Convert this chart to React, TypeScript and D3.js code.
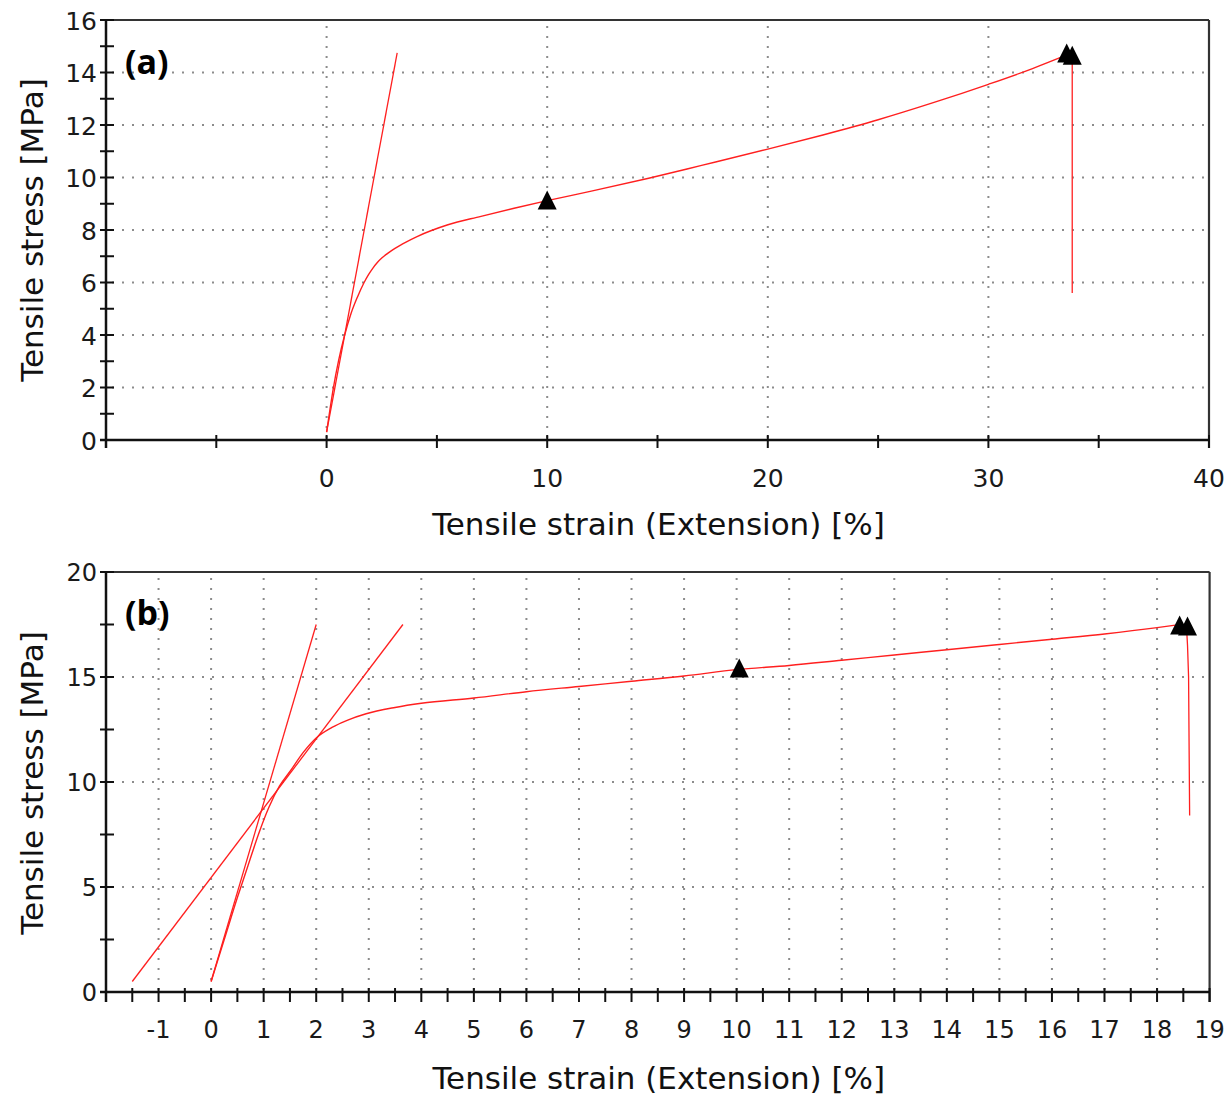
import { useEffect, useRef } from "react";
import * as d3 from "d3";

const FONT = "'DejaVu Sans', Verdana, sans-serif";
const RED = "#ff1f1f";

// ── Panel (a) ───────────────────────────────────────────────────────────────
const A_STRAIN = [0, 0.15, 0.3, 0.55, 0.82, 1.1, 1.4, 1.7, 1.9, 2.1, 2.3, 2.5, 2.8, 3.1, 3.6, 4.1, 5.5, 7, 8.5, 10, 12, 14.6, 17, 20, 22.5, 25, 27.5, 30, 32, 33.5];
const A_STRESS = [0.3, 1.15, 1.95, 3.05, 4.0, 4.8, 5.45, 6.0, 6.3, 6.55, 6.76, 6.93, 7.13, 7.3, 7.54, 7.75, 8.2, 8.52, 8.83, 9.12, 9.48, 9.97, 10.46, 11.08, 11.62, 12.2, 12.85, 13.55, 14.15, 14.65];
const A_TANGENT_X = [0, 3.2];
const A_TANGENT_Y = [0.3, 14.75];
const A_BREAK_X = [33.8, 33.8];
const A_BREAK_Y = [14.6, 5.6];
const A_MARK_X = [10, 33.55, 33.8];
const A_MARK_Y = [9.12, 14.72, 14.64];
const A_XTICKS = [-5, 0, 5, 10, 15, 20, 25, 30, 35, 40];
const A_XLABELS = [0, 10, 20, 30, 40];
const A_XGRID = [0, 10, 20, 30];
const A_YTICKS = [1, 2, 3, 4, 5, 6, 7, 8, 9, 10, 11, 12, 13, 14, 15, 16];
const A_YLABELS = [0, 2, 4, 6, 8, 10, 12, 14, 16];
const A_YGRID = [2, 4, 6, 8, 10, 12, 14];

// ── Panel (b) ───────────────────────────────────────────────────────────────
const B_STRAIN = [0, 0.25, 0.5, 0.7, 0.9, 1.1, 1.3, 1.5, 1.75, 2.0, 2.3, 2.6, 2.95, 3.5, 4, 5, 6, 7, 8, 9, 10, 11, 12, 13, 14, 15, 16, 17, 18, 18.35];
const B_STRESS = [0.5, 2.5, 4.5, 6.0, 7.5, 8.8, 9.8, 10.5, 11.4, 12.1, 12.6, 12.95, 13.25, 13.55, 13.75, 14.0, 14.3, 14.55, 14.8, 15.05, 15.35, 15.55, 15.8, 16.05, 16.3, 16.55, 16.8, 17.05, 17.35, 17.47];
const B_STEEP_X = [0, 2];
const B_STEEP_Y = [0.5, 17.5];
const B_SHALLOW_X = [-1.5, 3.65];
const B_SHALLOW_Y = [0.5, 17.5];
const B_BREAK_X = [18.56, 18.58, 18.6, 18.62];
const B_BREAK_Y = [17.4, 16.5, 15, 8.4];
const B_MARK_X = [10.05, 18.43, 18.58];
const B_MARK_Y = [15.4, 17.45, 17.4];
const B_XTICKS = [-1.5, -1, -0.5, 0, 0.5, 1, 1.5, 2, 2.5, 3, 3.5, 4, 4.5, 5, 5.5, 6, 6.5, 7, 7.5, 8, 8.5, 9, 9.5, 10, 10.5, 11, 11.5, 12, 12.5, 13, 13.5, 14, 14.5, 15, 15.5, 16, 16.5, 17, 17.5, 18, 18.5, 19];
const B_XLABELS = [-1, 0, 1, 2, 3, 4, 5, 6, 7, 8, 9, 10, 11, 12, 13, 14, 15, 16, 17, 18, 19];
const B_XGRID = [-1, 0, 1, 2, 3, 4, 5, 6, 7, 8, 9, 10, 11, 12, 13, 14, 15, 16, 17, 18];
const B_YTICKS = [2.5, 5, 7.5, 10, 12.5, 15, 17.5, 20];
const B_YLABELS = [0, 5, 10, 15, 20];
const B_YGRID = [5, 10, 15];

const zip = (xs, ys) => xs.map((x, i) => [x, ys[i]]);

const PANELS = [
  {
    tag: "(a)",
    xDomain: [-10, 40], xRange: [106, 1209],
    yDomain: [0, 16], yRange: [440, 20],
    curve: zip(A_STRAIN, A_STRESS),
    lines: [zip(A_TANGENT_X, A_TANGENT_Y), zip(A_BREAK_X, A_BREAK_Y)],
    marks: zip(A_MARK_X, A_MARK_Y),
    xTicks: A_XTICKS, xLabels: A_XLABELS, xGrid: A_XGRID,
    yTicks: A_YTICKS, yLabels: A_YLABELS, yGrid: A_YGRID,
    xTickUp: 5, xTickDown: 8, labelSize: 25,
    xLabelY: 487, xTitleY: 535, yTitleC: 230, tagY: 74,
  },
  {
    tag: "(b)",
    xDomain: [-2, 19], xRange: [106, 1209.6],
    yDomain: [0, 20], yRange: [992, 572],
    curve: zip(B_STRAIN, B_STRESS),
    lines: [zip(B_STEEP_X, B_STEEP_Y), zip(B_SHALLOW_X, B_SHALLOW_Y), zip(B_BREAK_X, B_BREAK_Y)],
    marks: zip(B_MARK_X, B_MARK_Y),
    xTicks: B_XTICKS, xLabels: B_XLABELS, xGrid: B_XGRID,
    yTicks: B_YTICKS, yLabels: B_YLABELS, yGrid: B_YGRID,
    xTickUp: 4, xTickDown: 10, labelSize: 24,
    xLabelY: 1038, xTitleY: 1089, yTitleC: 783, tagY: 625,
  },
];

function drawPanel(svg, p) {
  const x = d3.scaleLinear().domain(p.xDomain).range(p.xRange);
  const y = d3.scaleLinear().domain(p.yDomain).range(p.yRange);
  const [x0, x1] = p.xRange;
  const [y0, y1] = p.yRange;
  const g = svg.append("g");

  // dotted grid
  const grid = g.append("g").attr("stroke", "#8c8c8c").attr("stroke-width", 2)
    .attr("stroke-dasharray", "2 8");
  p.xGrid.forEach(v => {
    grid.append("line").attr("x1", x(v)).attr("x2", x(v)).attr("y1", y1 + 6).attr("y2", y0);
  });
  p.yGrid.forEach(v => {
    grid.append("line").attr("x1", x0 + 6).attr("x2", x1).attr("y1", y(v)).attr("y2", y(v));
  });

  // frame
  g.append("line").attr("x1", x0).attr("x2", x1).attr("y1", y1).attr("y2", y1)
    .attr("stroke", "#333").attr("stroke-width", 2.2);
  g.append("line").attr("x1", x1).attr("x2", x1).attr("y1", y1).attr("y2", y0 + p.xTickDown)
    .attr("stroke", "#333").attr("stroke-width", 2.2);
  g.append("line").attr("x1", x0).attr("x2", x0).attr("y1", y1).attr("y2", y0 + p.xTickDown)
    .attr("stroke", "#111").attr("stroke-width", 2.5);
  g.append("line").attr("x1", x0 - 6).attr("x2", x1).attr("y1", y0).attr("y2", y0)
    .attr("stroke", "#111").attr("stroke-width", 2.5);

  // ticks
  const ticks = g.append("g").attr("stroke", "#111").attr("stroke-width", 2);
  p.xTicks.forEach(v => {
    ticks.append("line").attr("x1", x(v)).attr("x2", x(v))
      .attr("y1", y0 - p.xTickUp).attr("y2", y0 + p.xTickDown);
  });
  p.yTicks.forEach(v => {
    ticks.append("line").attr("x1", x0 - 6).attr("x2", x0 + 8).attr("y1", y(v)).attr("y2", y(v));
  });

  // tick labels
  g.append("g").selectAll("text").data(p.xLabels).join("text")
    .attr("x", d => x(d)).attr("y", p.xLabelY)
    .attr("text-anchor", "middle").attr("font-family", FONT).attr("font-size", p.labelSize)
    .attr("fill", "#1a1a1a").text(d => String(d));
  g.append("g").selectAll("text").data(p.yLabels).join("text")
    .attr("x", 97).attr("y", d => y(d) + 1)
    .attr("dominant-baseline", "central")
    .attr("text-anchor", "end").attr("font-family", FONT).attr("font-size", p.labelSize)
    .attr("fill", "#1a1a1a").text(d => String(d));

  // axis titles
  g.append("text").attr("x", (x0 + x1) / 2 + 1).attr("y", p.xTitleY)
    .attr("text-anchor", "middle").attr("font-family", FONT).attr("font-size", 31)
    .attr("fill", "#111").text("Tensile strain (Extension) [%]");
  g.append("text").attr("transform", `translate(43,${p.yTitleC}) rotate(-90)`)
    .attr("text-anchor", "middle").attr("font-family", FONT).attr("font-size", 31)
    .attr("fill", "#111").text("Tensile stress [MPa]");

  // panel tag
  g.append("text").attr("x", 125).attr("y", p.tagY)
    .attr("font-family", "'Open Sans', sans-serif").attr("font-weight", 700)
    .attr("font-size", 34).attr("fill", "#000").text(p.tag);

  // curves
  const line = d3.line().x(d => x(d[0])).y(d => y(d[1]));
  p.lines.forEach(pts => {
    g.append("path").attr("d", line(pts)).attr("fill", "none")
      .attr("stroke", RED).attr("stroke-width", 1.3);
  });
  g.append("path").attr("d", line.curve(d3.curveMonotoneX)(p.curve)).attr("fill", "none")
    .attr("stroke", RED).attr("stroke-width", 1.4);

  // triangle markers
  const tri = (cx, cy) => `M${cx},${cy - 10}L${cx + 9.5},${cy + 9}L${cx - 9.5},${cy + 9}Z`;
  g.append("g").selectAll("path").data(p.marks).join("path")
    .attr("d", d => tri(x(d[0]), y(d[1]))).attr("fill", "#000");
}

export default function App() {
  const ref = useRef(null);

  useEffect(() => {
    const svg = d3.select(ref.current);
    svg.selectAll("*").remove();
    svg.append("rect").attr("width", 1228).attr("height", 1099).attr("fill", "#fff");
    PANELS.forEach(p => drawPanel(svg, p));
  }, []);

  return (
    <svg
      ref={ref}
      width={1228}
      height={1099}
      style={{ position: "absolute", left: 0, top: 0, display: "block" }}
    />
  );
}
